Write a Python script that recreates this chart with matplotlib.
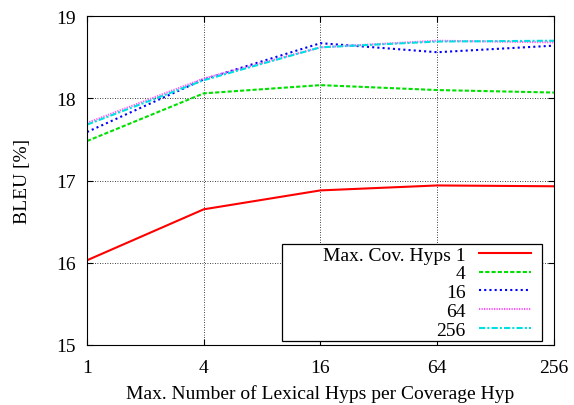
import matplotlib
matplotlib.use('Agg')
import matplotlib.pyplot as plt
from matplotlib.legend_handler import HandlerLine2D

plt.rcParams['font.family'] = ['Liberation Serif', 'DejaVu Serif']

x = [1, 4, 16, 64, 256]
hyps1 = [16.03, 16.65, 16.88, 16.94, 16.93]
hyps4 = [17.48, 18.06, 18.16, 18.10, 18.07]
hyps16 = [17.59, 18.23, 18.67, 18.56, 18.64]
hyps64 = [17.70, 18.24, 18.62, 18.70, 18.68]
hyps256 = [17.68, 18.22, 18.62, 18.69, 18.70]
labels = ['Max. Cov. Hyps 1', '4', '16', '64', '256']


class ShortSample(HandlerLine2D):
    # sample line only fills the left part of its slot, leaving a margin to the frame
    def get_xdata(self, legend, xdescent, ydescent, width, height, fontsize):
        xd = -xdescent
        return [xd, xd + width * 0.85], [xd, xd + width * 0.85]


fig = plt.figure(figsize=(5.74, 4.06), dpi=100)
ax = fig.add_axes([0.1516, 0.1478, 0.8134, 0.8102])

ax.plot(x, hyps1, color='#ff0000', lw=1.5, ls='-', label=labels[0])
ax.plot(x, hyps4, color='#00e000', lw=1.5, ls=(0, (2, 1)), label=labels[1])
ax.plot(x, hyps16, color='#0000ff', lw=1.5, ls=(0, (1, 1.5)), label=labels[2])
ax.plot(x, hyps64, color='#ff55ff', lw=1.5, ls=(0, (0.6, 0.6)), label=labels[3])
ax.plot(x, hyps256, color='#00e0e0', lw=1.5, ls=(0, (3, 1, 1, 1)), label=labels[4])

ax.set_xscale('log', base=2)
ax.set_xlim(1, 256)
ax.set_ylim(15, 19)
ax.set_xticks(x)
ax.set_xticklabels([str(v) for v in x])
ax.set_yticks([15, 16, 17, 18, 19])
ax.minorticks_off()
ax.tick_params(direction='in', top=True, right=True, labelsize=14, length=4)
ax.tick_params(axis='x', pad=10)
ax.tick_params(axis='y', pad=8)
ax.grid(True, color='black', ls=(0, (1, 2)), lw=0.6)

ax.set_xlabel('Max. Number of Lexical Hyps per Coverage Hyp', fontsize=14, labelpad=6)
ax.set_ylabel('BLEU [%]', fontsize=14, labelpad=18)

# gnuplot-style key: labels right-aligned, samples on the right
leg = ax.legend(loc='lower right', bbox_to_anchor=(542 / 574, 64 / 406),
                bbox_transform=fig.transFigure, borderaxespad=0,
                markerfirst=False, fontsize=14, fancybox=False,
                framealpha=1, edgecolor='black', handlelength=3.14,
                handletextpad=0.67, labelspacing=0.06, borderpad=0.12,
                handler_map={matplotlib.lines.Line2D: ShortSample()})
leg.get_frame().set_linewidth(0.9)
leg.get_texts()[0].set_text('        Max. Cov. Hyps 1')

fig.savefig('out.png', dpi=100)
